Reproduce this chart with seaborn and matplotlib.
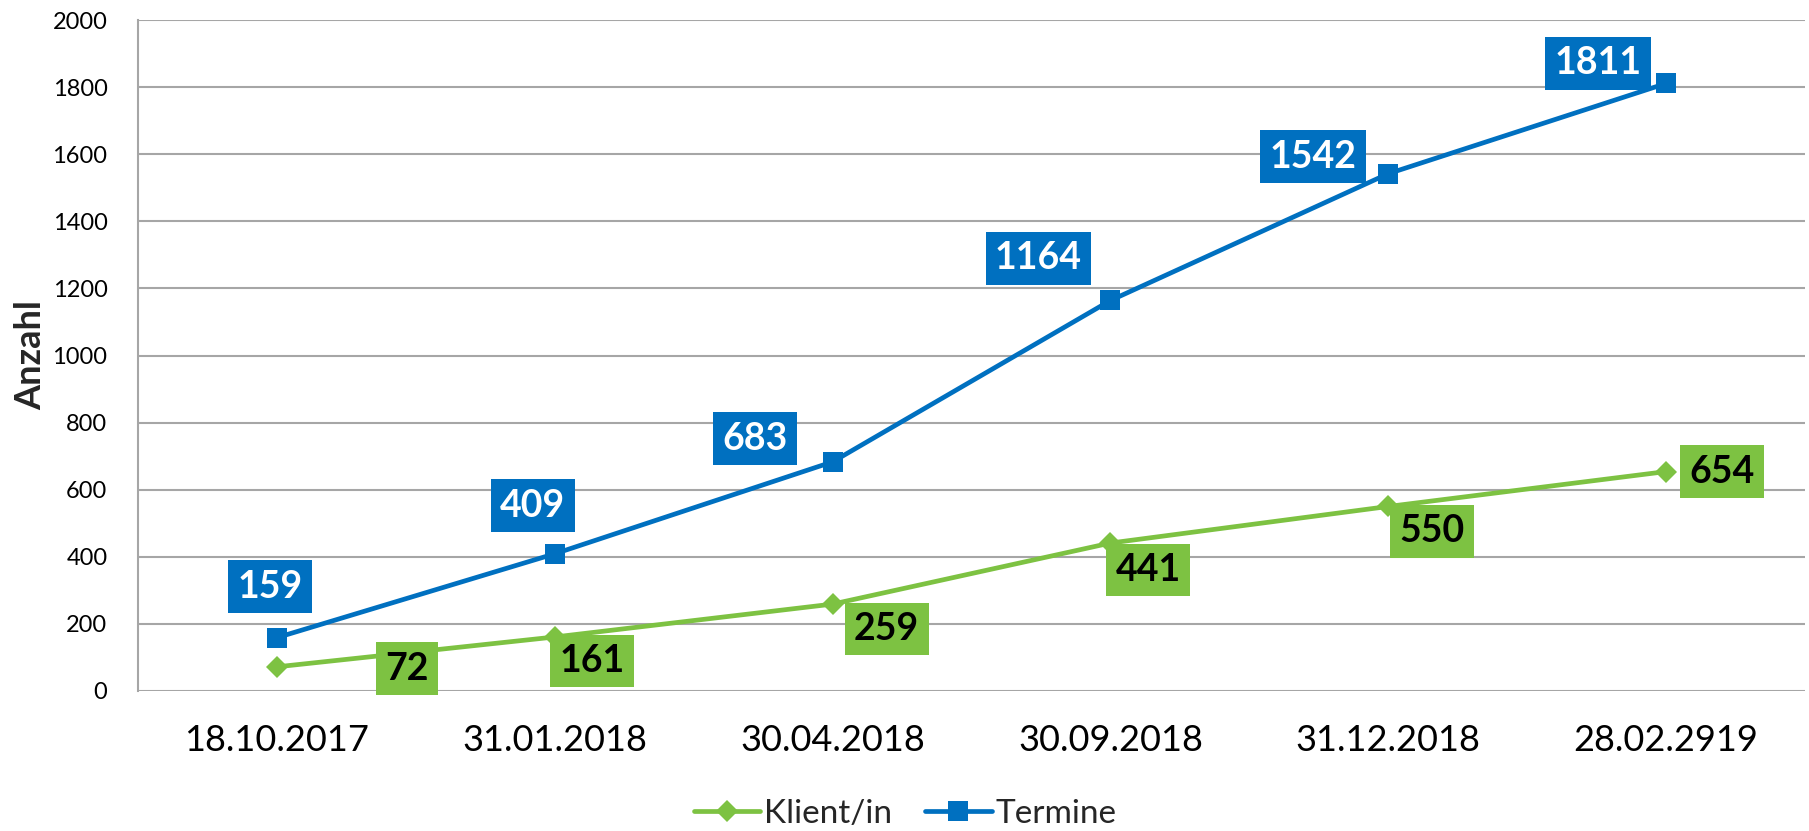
import numpy as np
import pandas as pd
import matplotlib
matplotlib.use("Agg")
import matplotlib.pyplot as plt
import seaborn as sns

# ─── Data ─────────────────────────────────────────────────────────────────────
dates    = ["18.10.2017", "31.01.2018", "30.04.2018",
            "30.09.2018", "31.12.2018", "28.02.2919"]
klienten = [72, 161, 259, 441, 550, 654]
termine  = [159, 409, 683, 1164, 1542, 1811]

BLUE  = "#0070C0"
GREEN = "#7DC242"
GRID  = "#A6A6A6"

# label offsets in pixels (dx, dy)
OFF_TERMINE  = [(-7, 51), (-22, 48), (-78, 23), (-72, 42), (-75, 17), (-68, 20)]
OFF_KLIENTEN = [(130, -2), (37, -24), (54, -25), (38, -27), (44, -25), (56, 0)]

sns.set_theme(style="white")
plt.rcParams["font.family"] = ["Lato", "DejaVu Sans"]

df = pd.DataFrame({
    "pos":   list(range(len(dates))) * 2,
    "value": klienten + termine,
    "serie": ["Klient/in"] * len(dates) + ["Termine"] * len(dates),
})

fig = plt.figure(figsize=(18.09, 8.31), dpi=100)
ax = fig.add_axes([0.0763, 0.1685, 0.9215, 0.8074])

sns.lineplot(data=df, x="pos", y="value", hue="serie", style="serie",
             palette={"Klient/in": GREEN, "Termine": BLUE},
             markers={"Klient/in": "D", "Termine": "s"},
             dashes=False, linewidth=3.4, markersize=14,
             markeredgewidth=0, ax=ax, legend=True)

# smaller diamond, like Excel's
for line in ax.lines:
    if line.get_marker() == "D":
        line.set_markersize(11)

ax.set_xlim(-0.5, len(dates) - 0.5)
ax.set_ylim(0, 2000)
ax.set_yticks(np.arange(0, 2001, 200))
ax.set_xticks(range(len(dates)))
ax.set_xticklabels(dates)
ax.yaxis.grid(True, color=GRID, linewidth=1.5)
ax.xaxis.grid(False)
ax.set_axisbelow(True)
for side in ["top", "right", "bottom"]:
    ax.spines[side].set_visible(False)
ax.spines["left"].set_color(GRID)
ax.spines["left"].set_linewidth(1.5)
ax.tick_params(axis="y", length=0, pad=22, labelsize=17, colors="black")
ax.tick_params(axis="x", length=0, pad=24, labelsize=26, colors="black")
ax.set_xlabel("")
ax.set_ylabel("Anzahl", fontsize=26, fontweight="bold", labelpad=4)

# data labels
for i, v in enumerate(termine):
    dx, dy = OFF_TERMINE[i]
    ax.annotate(str(v), (i, v), xytext=(dx, dy), textcoords="offset pixels",
                ha="center", va="center", fontsize=27, fontweight="bold",
                color="white",
                bbox=dict(boxstyle="square,pad=0.25", fc=BLUE, ec="none"))
for i, v in enumerate(klienten):
    dx, dy = OFF_KLIENTEN[i]
    ax.annotate(str(v), (i, v), xytext=(dx, dy), textcoords="offset pixels",
                ha="center", va="center", fontsize=27, fontweight="bold",
                color="black",
                bbox=dict(boxstyle="square,pad=0.25", fc=GREEN, ec="none"))

handles, labels = ax.get_legend_handles_labels()
ax.legend(handles, labels, loc="center", bbox_to_anchor=(0.46, -0.183),
          ncol=2, frameon=False, fontsize=24, handlelength=2.0,
          handletextpad=0.1, columnspacing=1.0)

fig.savefig("out.png", dpi=100)
